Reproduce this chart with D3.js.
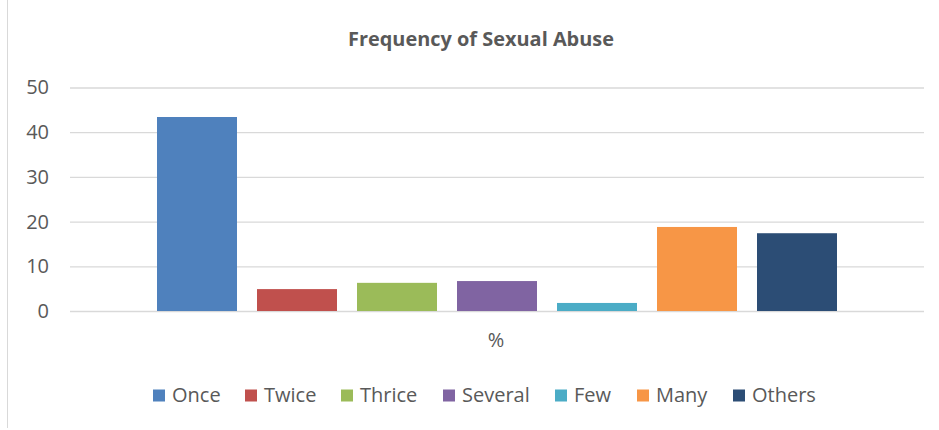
<!DOCTYPE html>
<html><head><meta charset="utf-8">
<script src="https://cdn.jsdelivr.net/npm/d3@7"></script>
<style>body{margin:0;background:#fff}svg{display:block}</style>
</head><body>
<script>
const categories = ["%"];
const seriesNames = ["Once","Twice","Thrice","Several","Few","Many","Others"];
const seriesValues = [43.4, 4.9, 6.3, 6.7, 1.8, 18.8, 17.4];
const seriesColors = ["#4f81bd","#c0504d","#9bbb59","#8064a2","#4bacc6","#f79646","#2c4d75"];
const yTicks = [0,10,20,30,40,50];
const title = "Frequency of Sexual Abuse";

const W = 939, H = 430;
const fam = "'Open Sans', sans-serif";
const svg = d3.select("body").append("svg").attr("width", W).attr("height", H);

const plot = {left: 70, right: 924, top: 87.5, bottom: 311};
const y = d3.scaleLinear().domain([0,50]).range([plot.bottom, plot.top]);
const x0 = d3.scaleBand().domain(categories).range([plot.left, plot.right]).paddingInner(0).paddingOuter(0);
const x1 = d3.scaleBand().domain(seriesNames).range([87, x0.bandwidth()-87]).paddingInner(0.2).paddingOuter(0);

// left border
svg.append("line").attr("x1",7.5).attr("x2",7.5).attr("y1",0).attr("y2",428)
  .attr("stroke","#d9d9d9").attr("stroke-width",1);

// title
svg.append("text").attr("x",481).attr("y",46).attr("text-anchor","middle")
  .attr("font-family",fam).attr("font-weight","bold").attr("font-size",19)
  .attr("fill","#595959").attr("textLength",266).attr("lengthAdjust","spacingAndGlyphs").text(title);

// grid + y axis
const yAxis = d3.axisLeft(y).tickValues(yTicks).tickSize(-(plot.right-plot.left)).tickPadding(21);
const ga = svg.append("g").attr("transform",`translate(${plot.left},0)`).call(yAxis);
ga.select(".domain").remove();
ga.selectAll(".tick line").attr("stroke","#d9d9d9").attr("stroke-width",1.3);
ga.selectAll(".tick text").attr("font-family",fam).attr("font-size",20).attr("fill","#595959");

// bars
const cat = svg.append("g").selectAll("g").data(categories).join("g")
  .attr("transform", d => `translate(${x0(d)},0)`);
cat.selectAll("rect").data(seriesNames.map((n,i)=>({n, v: seriesValues[i], c: seriesColors[i]})))
  .join("rect")
  .attr("x", d => x1(d.n)).attr("width", x1.bandwidth())
  .attr("y", d => y(d.v)).attr("height", d => y(0)-y(d.v))
  .attr("fill", d => d.c);

// x axis category label
const xAxis = d3.axisBottom(x0).tickSize(0).tickPadding(22);
const gx = svg.append("g").attr("transform",`translate(0,${plot.bottom})`).call(xAxis);
gx.select(".domain").remove();
gx.selectAll(".tick text").attr("font-family",fam).attr("font-size",20).attr("fill","#595959")
  .attr("transform","translate(-1,0)");

// legend
const legendX = [153, 245, 341, 443, 555, 637, 733];
const lg = svg.append("g");
seriesNames.forEach((n,i) => {
  const g = lg.append("g").attr("transform",`translate(${legendX[i]},0)`);
  g.append("rect").attr("x",0).attr("y",389.5).attr("width",12).attr("height",12).attr("fill",seriesColors[i]);
  g.append("text").attr("x",19).attr("y",402).attr("font-family",fam)
    .attr("font-size",20).attr("fill","#595959").text(n);
});
</script>
</body></html>
